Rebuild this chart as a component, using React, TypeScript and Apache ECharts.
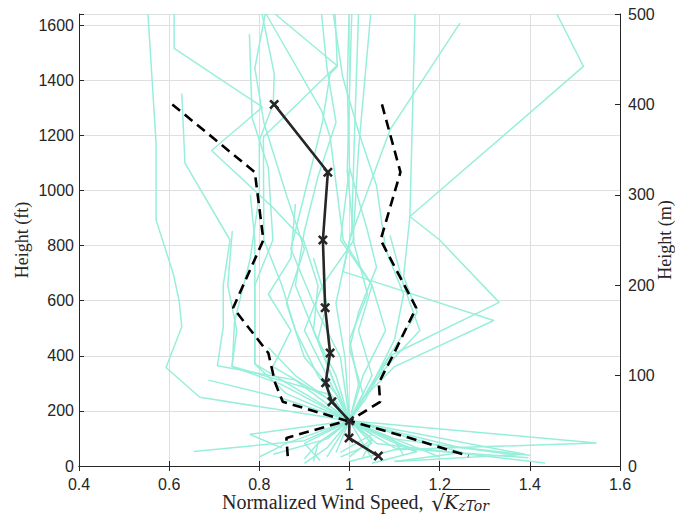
import React, { useEffect, useRef } from "react";
import * as echarts from "echarts";

// Height range of the profiles, in metres; the left axis shows the same range in feet.
const HEIGHT_MAX_M = 500;
const M_TO_FT = 3.28084;

// Individual normalized wind-speed profiles: [normalized speed, height (m)]
const profileA = [[0.553, 500], [0.571, 357], [0.571, 272], [0.609, 213], [0.622, 183], [0.628, 154], [0.593, 109], [0.668, 76], [1.0, 50], [1.05, 30], [1.03, 10]];
const profileB = [[0.611, 500], [0.611, 462], [0.807, 397], [0.694, 349], [0.83, 286], [0.898, 250], [0.93, 200], [0.92, 150], [0.97, 100], [1.0, 50], [0.9, 28], [0.654, 16]];
const profileC = [[1.46, 500], [1.519, 442], [1.134, 276], [1.2, 250], [1.332, 181], [1.09, 122], [1.034, 73], [1.0, 50], [1.1, 30], [1.37, 12]];
const profileD = [[1.02, 500], [1.01, 350], [1.005, 261], [0.986, 215], [1.32, 161], [1.1, 110], [1.03, 75], [1.0, 50], [1.548, 25.5], [1.1, 18], [1.0, 5]];
const profileE = [[1.245, 490], [1.09, 372], [1.0, 250], [0.97, 180], [0.99, 120], [1.0, 50], [1.15, 16], [1.05, 3]];
const profileF = [[1.145, 500], [1.145, 490], [1.134, 276], [1.12, 210], [1.15, 170], [1.06, 100], [1.0, 50], [1.389, 13], [1.1, 5]];
const profileG = [[0.628, 412], [0.635, 335], [0.735, 250], [0.72, 200], [0.72, 154], [0.707, 111], [0.88, 95], [1.0, 50], [0.779, 35], [0.85, 20]];
const profileH = [[0.778, 478], [0.784, 385], [0.82, 330], [0.83, 250], [0.79, 200], [0.79, 113], [0.86, 80], [1.0, 50], [0.95, 30], [0.831, 13]];
const profileI = [[0.806, 500], [0.833, 434], [0.831, 401], [0.8, 360], [0.8, 300], [0.78, 230], [0.745, 160], [0.74, 110], [0.95, 80], [1.0, 50], [0.9, 25], [0.935, 6]];
const profileJ = [[0.813, 500], [0.79, 440], [0.81, 380], [0.86, 300], [0.9, 240], [0.86, 180], [0.9, 120], [0.97, 80], [1.0, 50], [1.06, 25], [1.434, 3.3]];
const profileK = [[0.835, 500], [0.972, 443], [0.809, 364], [0.81, 250], [0.85, 200], [0.88, 150], [0.93, 100], [1.0, 50], [1.1, 20], [1.397, 9]];
const profileL = [[0.815, 500], [0.938, 393], [0.957, 364], [0.986, 250], [1.05, 200], [1.02, 150], [1.05, 100], [1.0, 50], [0.93, 25], [0.9, 8]];
const profileM = [[0.938, 500], [0.95, 440], [0.97, 380], [0.93, 320], [0.9, 260], [0.88, 200], [0.92, 150], [0.96, 100], [1.0, 50], [1.05, 30], [1.0, 10]];
const profileN = [[0.964, 500], [0.985, 430], [1.02, 370], [1.06, 310], [1.08, 240], [1.12, 190], [1.1, 140], [1.05, 90], [1.0, 50], [1.25, 15], [1.1, 5]];
const profileO = [[0.999, 500], [0.995, 420], [1.0, 330], [0.98, 250], [1.05, 200], [1.08, 150], [1.03, 100], [1.0, 50], [1.15, 20], [1.2, 10]];
const profileP = [[1.005, 500], [0.995, 327], [1.01, 250], [0.94, 200], [0.9, 150], [0.95, 100], [1.0, 50], [0.95, 20], [0.9, 3]];
const profileQ = [[1.047, 500], [1.02, 350], [1.008, 250], [1.04, 190], [1.0, 140], [1.02, 90], [1.0, 50], [1.1, 28], [1.12, 12]];
const profileR = [[0.968, 500], [0.973, 442], [0.957, 434], [0.94, 380], [0.9, 300], [0.87, 240], [0.92, 180], [0.98, 120], [1.0, 50], [0.97, 15]];
const profileS = [[1.0, 330], [1.04, 260], [1.06, 220], [1.02, 170], [1.0, 130], [1.03, 80], [1.0, 50], [1.05, 25], [0.98, 10]];
const profileT = [[1.09, 255], [1.12, 200], [1.156, 150], [1.1, 120], [1.05, 90], [1.0, 50], [1.24, 21], [1.4, 12]];
const profileU = [[0.88, 290], [0.87, 230], [0.82, 190], [0.87, 150], [0.83, 110], [0.95, 75], [1.0, 50], [0.86, 25], [0.8, 10]];
const profileV = [[0.92, 230], [0.95, 180], [0.93, 140], [0.96, 100], [1.0, 50], [1.05, 35], [0.98, 15]];
const profileW = [[0.82, 131], [0.88, 100], [0.95, 75], [1.0, 50], [1.08, 30], [1.145, 16]];
const profileX = [[0.687, 95], [0.85, 75], [1.0, 50], [0.93, 25], [0.92, 5]];
const profileY = [[0.74, 260], [0.73, 200], [0.75, 150], [0.739, 110], [0.85, 90], [1.0, 50], [0.95, 10]];
const profileZ = [[0.78, 300], [0.79, 250], [0.79, 113], [0.9, 80], [1.0, 50], [1.05, 8]];

const profiles = [
  profileA, profileB, profileC, profileD, profileE, profileF, profileG,
  profileH, profileI, profileJ, profileK, profileL, profileM, profileN,
  profileO, profileP, profileQ, profileR, profileS, profileT, profileU,
  profileV, profileW, profileX, profileY, profileZ,
];

// Ensemble mean and mean ± one standard deviation
const meanHeightsM = [400, 325, 250, 175, 125, 92, 71, 50, 31, 11];
const meanSpeed = [0.833, 0.952, 0.941, 0.946, 0.957, 0.947, 0.961, 1.0, 0.999, 1.064];
const minusStdSpeed = [0.607, 0.79, 0.809, 0.742, 0.82, 0.835, 0.852, 0.994, 0.86, 0.863];
const plusStdSpeed = [1.072, 1.113, 1.069, 1.148, 1.099, 1.065, 1.068, 1.0, 1.134, 1.264];

const profileColor = "#97efdb";
const ink = "#262626";
const gridColor = "#dfdfdf";
const tickFont = "Liberation Sans";
const labelFont = "Liberation Serif";
const mathFont = "DejaVu Serif";

const crossSymbol =
  "path://M1.8,0L5,3.2L8.2,0L10,1.8L6.8,5L10,8.2L8.2,10L5,6.8L1.8,10L0,8.2L3.2,5L0,1.8Z";

function textWidth(text: string, font: string): number {
  const ctx = document.createElement("canvas").getContext("2d");
  if (!ctx) return text.length * 8;
  ctx.font = font;
  return ctx.measureText(text).width;
}

export default function App() {
  const ref = useRef<HTMLDivElement>(null);

  useEffect(() => {
    if (!ref.current) return;
    const chart = echarts.init(ref.current, undefined, { renderer: "svg" });

    // x-axis title: "Normalized Wind Speed, sqrt(K_zTor)"
    const mainFont = `20px "${labelFont}"`;
    const radFont = `22px "${mathFont}"`;
    const kFont = `italic 19px "${mathFont}"`;
    const subFont = `italic 14px "${mathFont}"`;
    const mainText = "Normalized Wind Speed, ";
    const x0 = 222;
    const yMid = 502;
    const xRad = x0 + textWidth(mainText, mainFont) + 2;
    const xK = xRad + textWidth("\u221A", radFont) - 1;
    const xSub = xK + textWidth("K", kFont);
    const xEnd = xSub + textWidth("zTor", subFont);

    const meanData = meanHeightsM.map((h, i) => [meanSpeed[i], h]);
    const lowerData = meanHeightsM.map((h, i) => [minusStdSpeed[i], h]);
    const upperData = meanHeightsM.map((h, i) => [plusStdSpeed[i], h]);

    const axisLabelStyle = { color: ink, fontFamily: tickFont, fontSize: 16 };
    const nameStyle = { color: ink, fontFamily: labelFont, fontSize: 18 };

    chart.setOption({
      animation: false,
      grid: {
        left: 79,
        right: 55,
        top: 14,
        bottom: 48,
        containLabel: false,
        outerBoundsMode: "none",
      },
      xAxis: [
        {
          type: "value",
          min: 0.4,
          max: 1.6,
          interval: 0.2,
          position: "bottom",
          axisLine: { lineStyle: { color: ink, width: 1 } },
          axisTick: { inside: true, length: 5, lineStyle: { color: ink } },
          axisLabel: { ...axisLabelStyle, margin: 10 },
          splitLine: { show: true, lineStyle: { color: gridColor, width: 1 } },
        },
        {
          type: "value",
          min: 0.4,
          max: 1.6,
          interval: 0.2,
          position: "top",
          axisLine: { lineStyle: { color: ink, width: 1 } },
          axisTick: { inside: true, length: 5, lineStyle: { color: ink } },
          axisLabel: { show: false },
          splitLine: { show: false },
        },
      ],
      yAxis: [
        {
          type: "value",
          position: "left",
          min: 0,
          max: HEIGHT_MAX_M * M_TO_FT,
          interval: 200,
          name: "Height (ft)",
          nameLocation: "middle",
          nameGap: 48,
          nameMoveOverlap: false,
          nameTextStyle: nameStyle,
          axisLine: { show: true, lineStyle: { color: ink, width: 1 } },
          axisTick: { show: true, inside: true, length: 5, lineStyle: { color: ink } },
          axisLabel: {
            ...axisLabelStyle,
            margin: 5,
            formatter: (v: number) => (Math.abs(v % 200) < 1e-6 ? String(v) : ""),
          },
          splitLine: { show: true, lineStyle: { color: gridColor, width: 1 } },
        },
        {
          type: "value",
          position: "right",
          min: 0,
          max: HEIGHT_MAX_M,
          interval: 100,
          name: "Height (m)",
          nameLocation: "middle",
          nameRotate: 90,
          nameGap: 36,
          nameMoveOverlap: false,
          nameTextStyle: nameStyle,
          axisLine: { show: true, lineStyle: { color: ink, width: 1 } },
          axisTick: { show: true, inside: true, length: 5, lineStyle: { color: ink } },
          axisLabel: { ...axisLabelStyle, margin: 8 },
          splitLine: { show: false },
        },
      ],
      graphic: [
        {
          type: "text",
          x: x0,
          y: yMid,
          style: { text: mainText, fill: ink, font: mainFont, verticalAlign: "middle" },
        },
        {
          type: "text",
          x: xRad,
          y: yMid + 1,
          style: { text: "\u221A", fill: ink, font: radFont, verticalAlign: "middle" },
        },
        {
          type: "line",
          shape: { x1: xK - 1.5, y1: yMid - 12.5, x2: xEnd + 1, y2: yMid - 12.5 },
          style: { stroke: ink, lineWidth: 1 },
        },
        {
          type: "text",
          x: xK,
          y: yMid,
          style: { text: "K", fill: ink, font: kFont, verticalAlign: "middle" },
        },
        {
          type: "text",
          x: xSub,
          y: yMid + 4,
          style: { text: "zTor", fill: ink, font: subFont, verticalAlign: "middle" },
        },
      ],
      series: [
        ...profiles.map((p) => ({
          type: "line",
          xAxisIndex: 0,
          yAxisIndex: 1,
          data: p,
          symbol: "none",
          silent: true,
          z: 2,
          lineStyle: { color: profileColor, width: 1.5 },
        })),
        {
          type: "line",
          xAxisIndex: 0,
          yAxisIndex: 1,
          data: lowerData,
          symbol: "none",
          z: 3,
          lineStyle: { color: "#000000", width: 2.6, type: [10, 6] },
        },
        {
          type: "line",
          xAxisIndex: 0,
          yAxisIndex: 1,
          data: upperData,
          symbol: "none",
          z: 3,
          lineStyle: { color: "#000000", width: 2.6, type: [10, 6] },
        },
        {
          type: "line",
          xAxisIndex: 0,
          yAxisIndex: 1,
          data: meanData,
          symbol: crossSymbol,
          symbolSize: 10,
          showSymbol: true,
          z: 4,
          itemStyle: { color: ink },
          lineStyle: { color: ink, width: 2.6 },
        },
      ],
    });

    return () => chart.dispose();
  }, []);

  return (
    <div
      ref={ref}
      style={{ position: "fixed", left: 0, top: 0, width: 675, height: 514, background: "#fff" }}
    />
  );
}
